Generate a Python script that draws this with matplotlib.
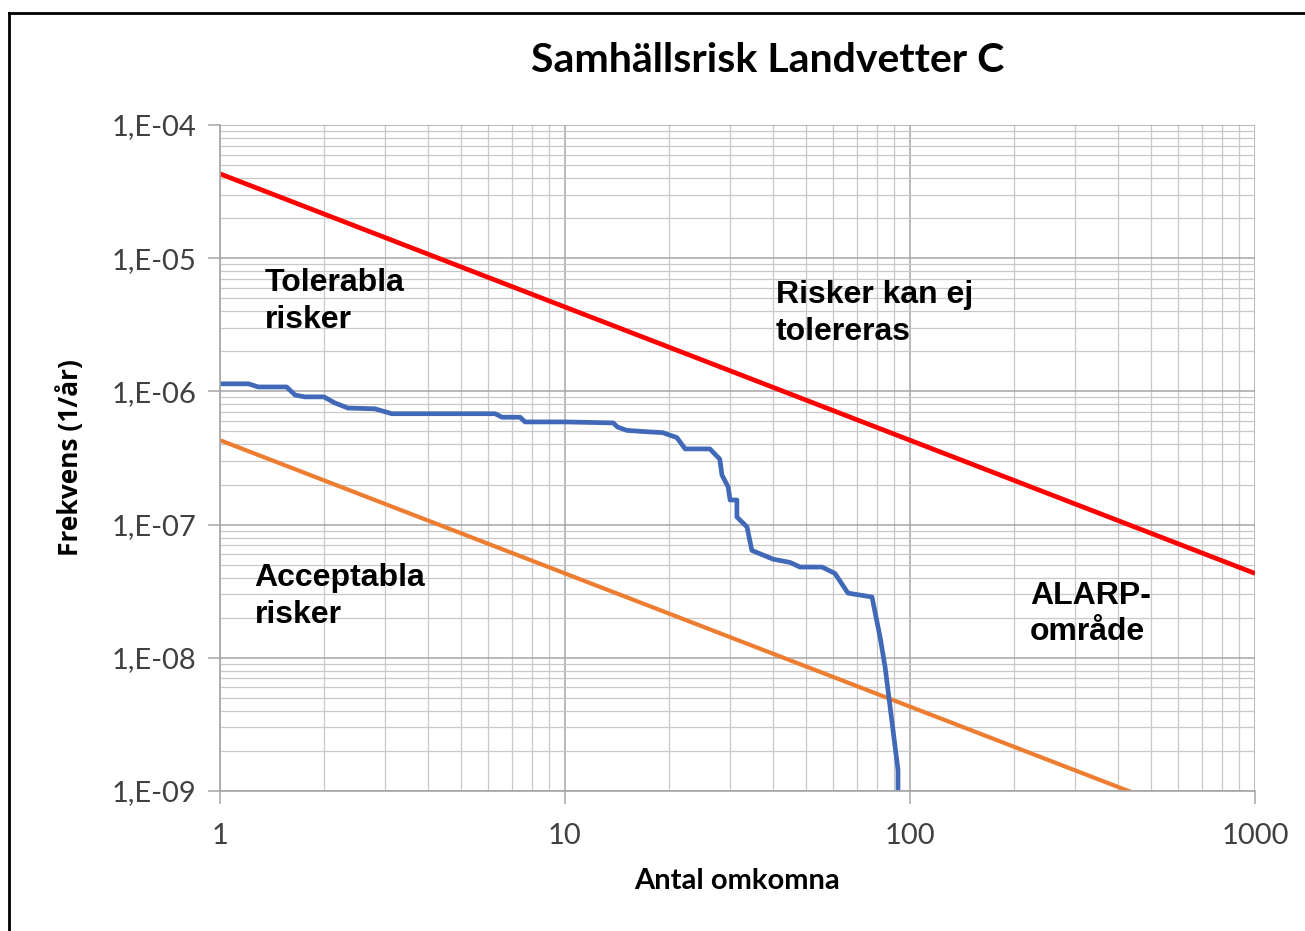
import numpy as np
import matplotlib.pyplot as plt
from matplotlib.lines import Line2D
from matplotlib.ticker import FixedLocator, LogLocator, NullFormatter

# --- data ---
n_blue = [1, 1.21, 1.29, 1.56, 1.65, 1.76, 2.0, 2.15, 2.35, 2.81, 3.15, 6.27, 6.57,
          7.41, 7.66, 10.0, 13.8, 14.2, 15.1, 16.8, 19.2, 21.1, 22.3, 26.3, 28.1,
          28.5, 29.7, 30.1, 31.5, 31.5, 33.7, 34.8, 40.1, 44.9, 48.0, 55.6, 60.6,
          66.1, 77.6, 81.9, 84.7, 92.3, 92.3]
f_blue = [1.14e-6, 1.14e-6, 1.08e-6, 1.08e-6, 9.4e-7, 9.1e-7, 9.1e-7, 8.2e-7, 7.5e-7,
          7.4e-7, 6.8e-7, 6.8e-7, 6.4e-7, 6.4e-7, 5.9e-7, 5.9e-7, 5.8e-7, 5.4e-7,
          5.1e-7, 5.0e-7, 4.9e-7, 4.5e-7, 3.7e-7, 3.7e-7, 3.1e-7, 2.36e-7, 1.92e-7,
          1.53e-7, 1.53e-7, 1.14e-7, 9.6e-8, 6.4e-8, 5.5e-8, 5.2e-8, 4.8e-8, 4.8e-8,
          4.3e-8, 3.06e-8, 2.86e-8, 1.43e-8, 8.5e-9, 1.44e-9, 1.0e-9]

n_crit = [1, 1000]
f_upper = [4.3e-5, 4.3e-8]
f_lower = [4.3e-7, 4.3e-10]

x_ticks = [1, 10, 100, 1000]
x_labels = ["1", "10", "100", "1000"]
y_ticks = [1e-9, 1e-8, 1e-7, 1e-6, 1e-5, 1e-4]
y_labels = ["1,E-09", "1,E-08", "1,E-07", "1,E-06", "1,E-05", "1,E-04"]

fig = plt.figure(figsize=(13.05, 9.31), dpi=100)
ax = fig.add_axes([220/1305, 1 - 791/931, 1035/1305, 666/931])

ax.plot(n_crit, f_upper, color="#ff0000", lw=3.4, solid_capstyle="butt")
ax.plot(n_crit, f_lower, color="#ed7d31", lw=3.0, solid_capstyle="butt")
ax.plot(n_blue, f_blue, color="#4169b8", lw=3.4, solid_joinstyle="round")

ax.set_xscale("log")
ax.set_yscale("log")
ax.set_xlim(1, 1000)
ax.set_ylim(1e-9, 1e-4)

ax.xaxis.set_major_locator(FixedLocator(x_ticks))
ax.xaxis.set_minor_locator(LogLocator(base=10, subs=np.arange(2, 10)))
ax.xaxis.set_minor_formatter(NullFormatter())
ax.set_xticklabels(x_labels)
ax.yaxis.set_major_locator(FixedLocator(y_ticks))
ax.yaxis.set_minor_locator(LogLocator(base=10, subs=np.arange(2, 10)))
ax.yaxis.set_minor_formatter(NullFormatter())
ax.set_yticklabels(y_labels)

ax.grid(which="major", color="#a6a6a6", lw=1.1)
ax.grid(which="minor", color="#c8c8c8", lw=0.9)
ax.set_axisbelow(True)

for s in ["top", "right"]:
    ax.spines[s].set_visible(False)
for s in ["left", "bottom"]:
    ax.spines[s].set_color("#a6a6a6")
    ax.spines[s].set_linewidth(1.2)

ax.tick_params(which="major", length=9, color="#a6a6a6", width=1.1,
               labelsize=21, labelcolor="#404040")
ax.tick_params(which="minor", length=0)
ax.tick_params(axis="x", pad=14)
ax.tick_params(axis="y", pad=8)
for lab in ax.get_xticklabels() + ax.get_yticklabels():
    lab.set_family("Lato")

ax.set_xlabel("Antal omkomna", fontsize=21, fontweight="bold", family="Lato", labelpad=14)
ax.set_ylabel("Frekvens (1/år)", fontsize=19, fontweight="bold", family="Open Sans", labelpad=20)
fig.text(0.588, 1 - 60/931, "Samhällsrisk Landvetter C", ha="center", va="center",
         fontsize=29.5, fontweight="bold", family="Lato")

txt = dict(fontsize=23, fontweight="bold", family="Liberation Sans", va="top",
           ha="left", linespacing=1.3)
ax.text(1.35, 8.4e-6, "Tolerabla\nrisker", **txt)
ax.text(40.9, 6.9e-6, "Risker kan ej\ntolereras", **txt)
ax.text(1.26, 5.15e-8, "Acceptabla\nrisker", **txt)
ax.text(223, 3.8e-8, "ALARP-\nområde", **txt)

# outer frame (left and top edge visible in the original)
fig.add_artist(Line2D([9/1305, 9/1305], [0, 1 - 13/931], transform=fig.transFigure,
                      color="black", lw=2))
fig.add_artist(Line2D([9/1305, 1], [1 - 13/931, 1 - 13/931], transform=fig.transFigure,
                      color="black", lw=2))

fig.savefig("out.png", dpi=100)
